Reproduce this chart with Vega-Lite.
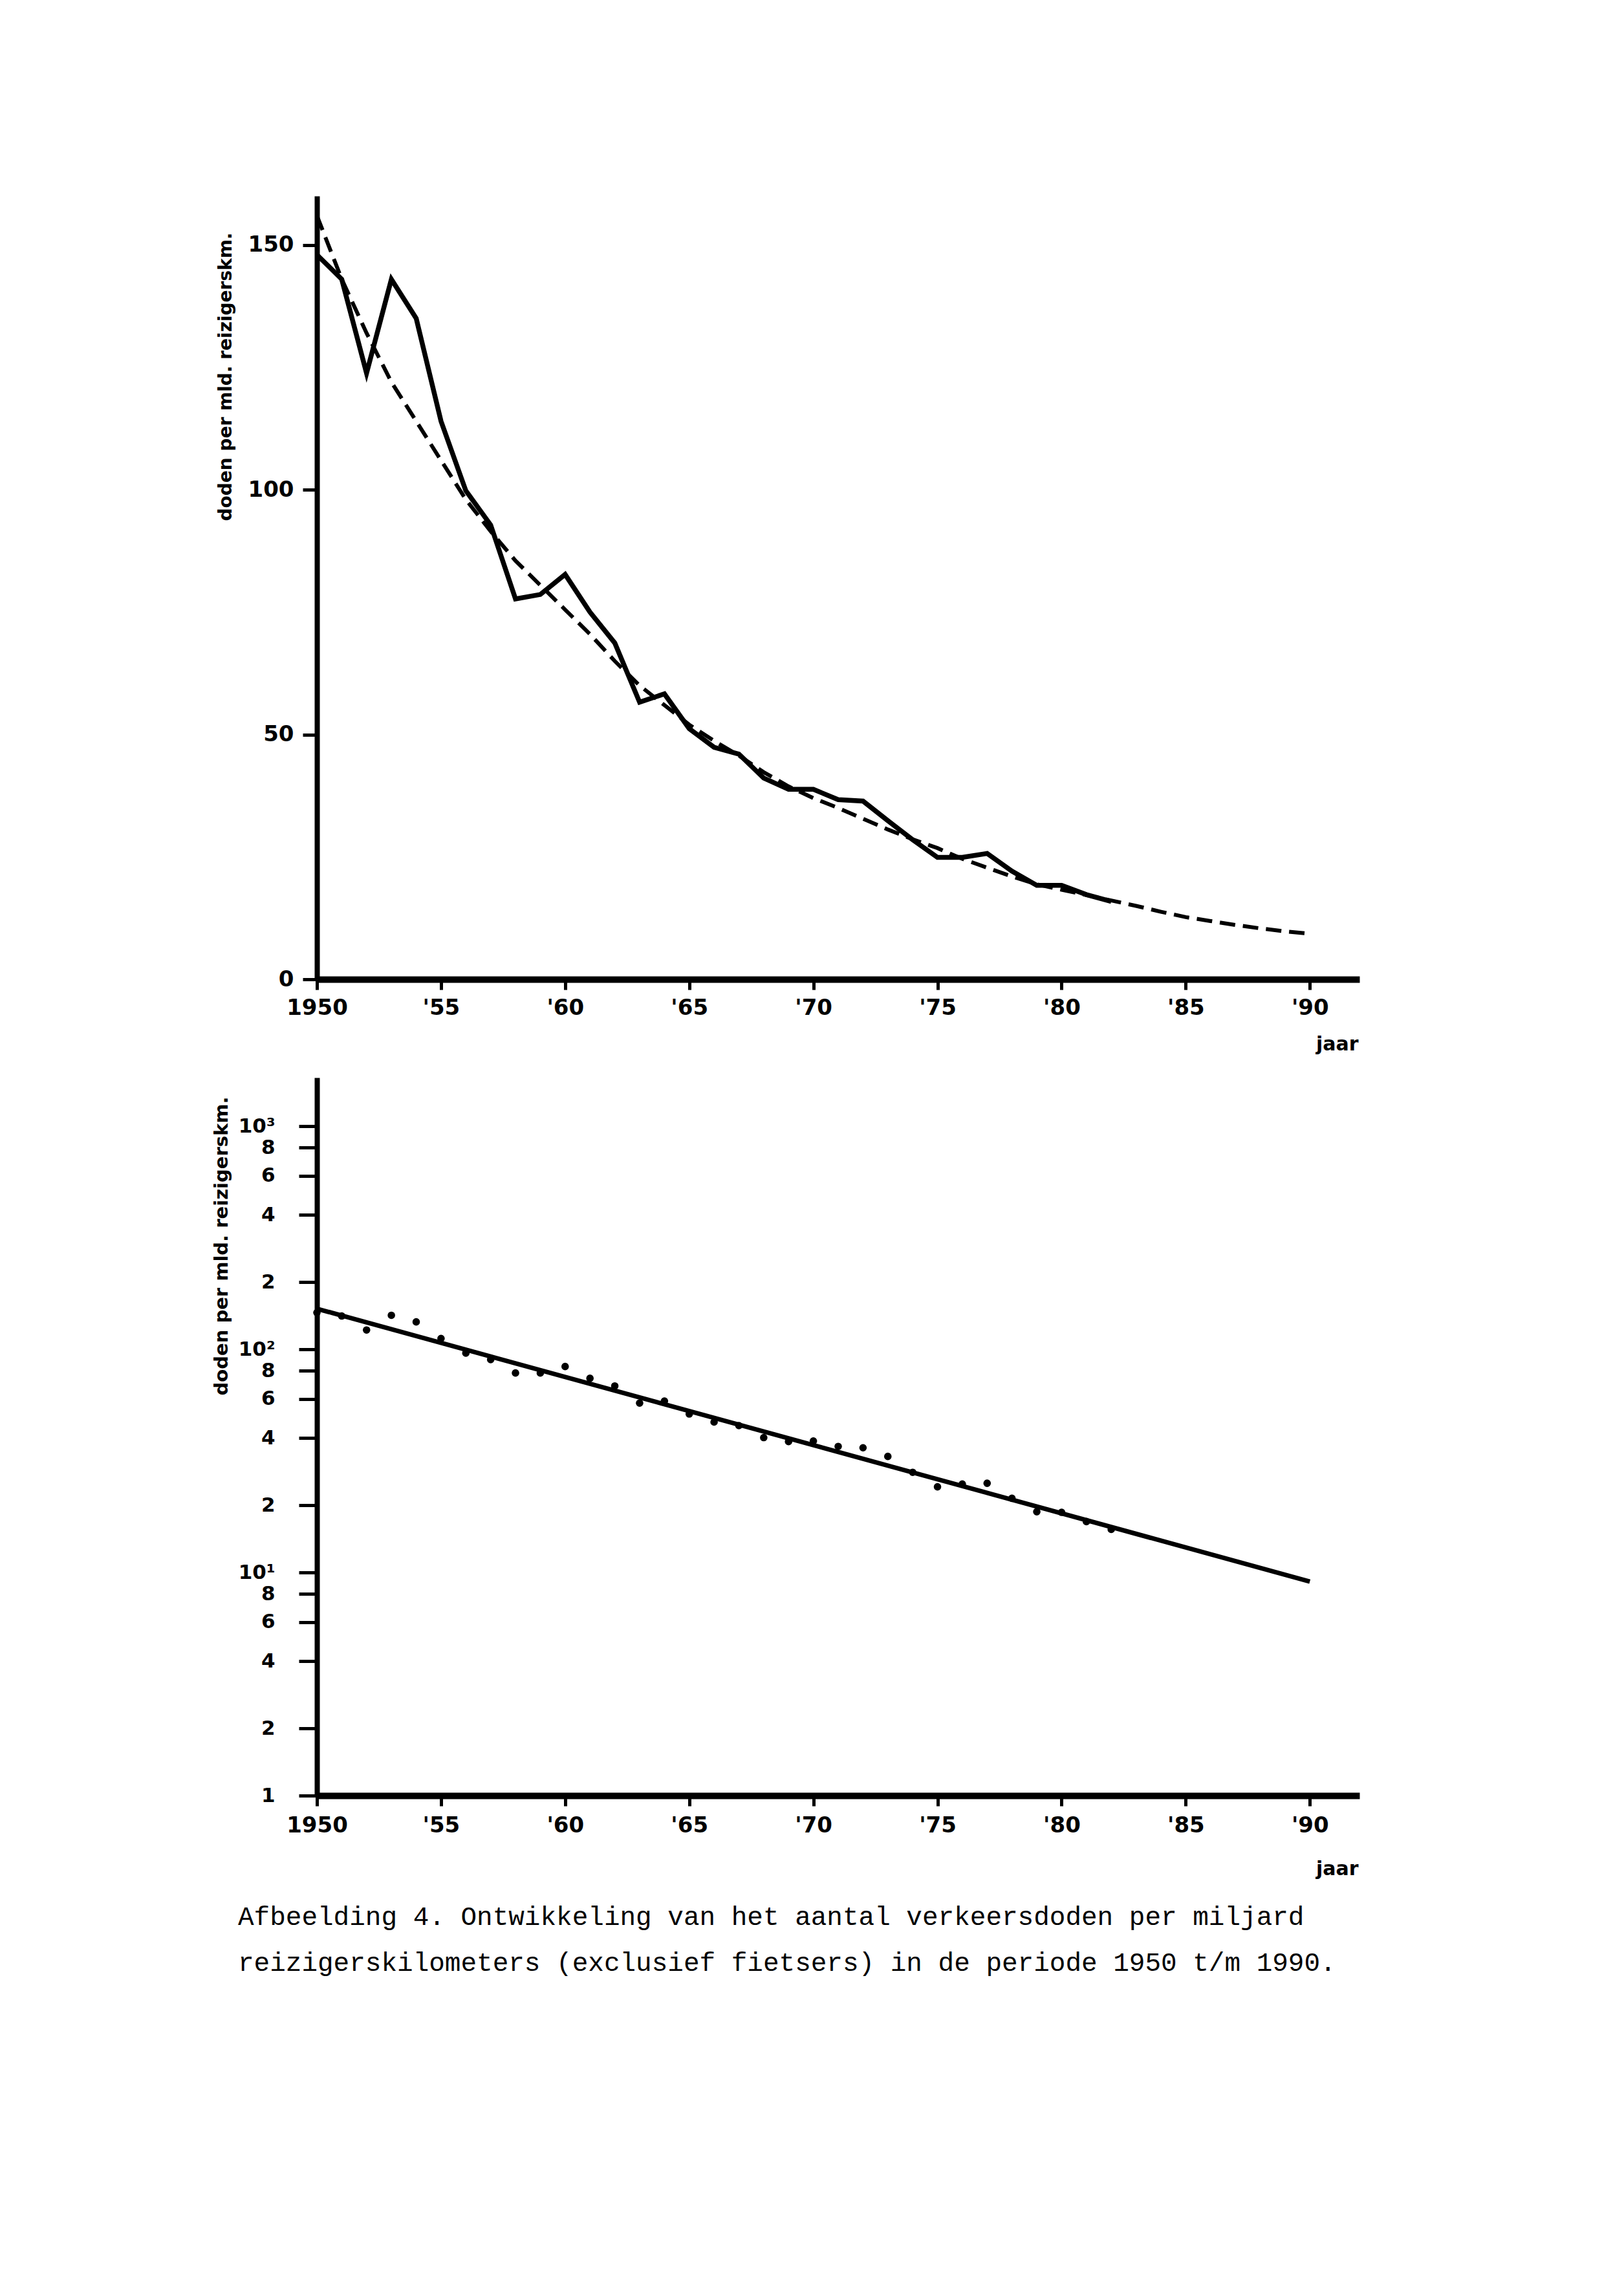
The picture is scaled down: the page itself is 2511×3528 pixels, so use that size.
{
  "$schema": "https://vega.github.io/schema/vega-lite/v6.json",
  "background": "white",
  "autosize": {"type": "pad"},
  "padding": {"left": 327, "top": 303, "right": 20, "bottom": 20},
  "bounds": "flush",
  "spacing": 152,
  "title": {
    "text": ["Afbeelding 4. Ontwikkeling van het aantal verkeersdoden per miljard", "reizigerskilometers (exclusief fietsers) in de periode 1950 t/m 1990."],
    "orient": "bottom",
    "anchor": "start",
    "frame": "bounds",
    "font": "Liberation Mono",
    "fontSize": 41,
    "fontWeight": "normal",
    "color": "black",
    "lineHeight": 71,
    "offset": 40,
    "dx": 40
  },
  "config": {
    "view": {"stroke": null},
    "axis": {
      "grid": false,
      "domainColor": "black",
      "tickColor": "black",
      "labelColor": "black",
      "titleColor": "black",
      "labelFont": "DejaVu Sans",
      "labelFontWeight": "bold",
      "titleFont": "DejaVu Sans",
      "titleFontWeight": "bold",
      "labelFlush": false,
      "labelOverlap": false
    }
  },
  "datasets": {
    "obs_lin": [
      {"year": 1950, "rate": 148}, {"year": 1951, "rate": 143}, {"year": 1952, "rate": 123.8},
      {"year": 1953, "rate": 143}, {"year": 1954, "rate": 135}, {"year": 1955, "rate": 114},
      {"year": 1956, "rate": 99.8}, {"year": 1957, "rate": 92.8}, {"year": 1958, "rate": 77.7},
      {"year": 1959, "rate": 78.6}, {"year": 1960, "rate": 82.7}, {"year": 1961, "rate": 75},
      {"year": 1962, "rate": 68.7}, {"year": 1963, "rate": 56.6}, {"year": 1964, "rate": 58.3},
      {"year": 1965, "rate": 51.2}, {"year": 1966, "rate": 47.4}, {"year": 1967, "rate": 46},
      {"year": 1968, "rate": 41.1}, {"year": 1969, "rate": 38.8}, {"year": 1970, "rate": 38.8},
      {"year": 1971, "rate": 36.7}, {"year": 1972, "rate": 36.4}, {"year": 1973, "rate": 32.4},
      {"year": 1974, "rate": 28.5}, {"year": 1975, "rate": 24.9}, {"year": 1976, "rate": 24.9},
      {"year": 1977, "rate": 25.7}, {"year": 1978, "rate": 22.1}, {"year": 1979, "rate": 19.2},
      {"year": 1980, "rate": 19.2}, {"year": 1981, "rate": 17.3}, {"year": 1982, "rate": 15.9}
    ],
    "trend": [
      {"year": 1950, "rate": 156}, {"year": 1951, "rate": 143}, {"year": 1952, "rate": 132},
      {"year": 1953, "rate": 122}, {"year": 1954, "rate": 114}, {"year": 1955, "rate": 106},
      {"year": 1956, "rate": 98}, {"year": 1957, "rate": 91.5}, {"year": 1958, "rate": 85.5},
      {"year": 1959, "rate": 80.5}, {"year": 1960, "rate": 75.5}, {"year": 1961, "rate": 70.5},
      {"year": 1962, "rate": 65}, {"year": 1963, "rate": 60}, {"year": 1964, "rate": 56},
      {"year": 1965, "rate": 52}, {"year": 1966, "rate": 48.7}, {"year": 1967, "rate": 45.7},
      {"year": 1968, "rate": 42.3}, {"year": 1969, "rate": 39.4}, {"year": 1970, "rate": 37},
      {"year": 1971, "rate": 35}, {"year": 1972, "rate": 32.8}, {"year": 1973, "rate": 30.6},
      {"year": 1974, "rate": 28.6}, {"year": 1975, "rate": 26.8}, {"year": 1976, "rate": 24.6},
      {"year": 1977, "rate": 22.8}, {"year": 1978, "rate": 21}, {"year": 1979, "rate": 19.4},
      {"year": 1980, "rate": 18.3}, {"year": 1981, "rate": 17.2}, {"year": 1982, "rate": 16.1},
      {"year": 1983, "rate": 15}, {"year": 1984, "rate": 13.8}, {"year": 1985, "rate": 12.7},
      {"year": 1986, "rate": 11.9}, {"year": 1987, "rate": 11.1}, {"year": 1988, "rate": 10.4},
      {"year": 1989, "rate": 9.8}, {"year": 1990, "rate": 9.3}
    ],
    "obs_log": [
      {"year": 1950, "rate": 146}, {"year": 1951, "rate": 141}, {"year": 1952, "rate": 122},
      {"year": 1953, "rate": 142}, {"year": 1954, "rate": 132.7}, {"year": 1955, "rate": 111.8},
      {"year": 1956, "rate": 96.1}, {"year": 1957, "rate": 89.9}, {"year": 1958, "rate": 78.3},
      {"year": 1959, "rate": 78.3}, {"year": 1960, "rate": 83.7}, {"year": 1961, "rate": 74.1},
      {"year": 1962, "rate": 68.5}, {"year": 1963, "rate": 57.4}, {"year": 1964, "rate": 58.6},
      {"year": 1965, "rate": 51.3}, {"year": 1966, "rate": 47.2}, {"year": 1967, "rate": 45.5},
      {"year": 1968, "rate": 40.2}, {"year": 1969, "rate": 38.6}, {"year": 1970, "rate": 38.8},
      {"year": 1971, "rate": 36.7}, {"year": 1972, "rate": 36.2}, {"year": 1973, "rate": 33.1},
      {"year": 1974, "rate": 28.1}, {"year": 1975, "rate": 24.2}, {"year": 1976, "rate": 24.9},
      {"year": 1977, "rate": 25.1}, {"year": 1978, "rate": 21.5}, {"year": 1979, "rate": 18.7},
      {"year": 1980, "rate": 18.6}, {"year": 1981, "rate": 16.9}, {"year": 1982, "rate": 15.6}
    ],
    "fit": [
      {"year": 1950, "rate": 152}, {"year": 1990, "rate": 9.1}
    ]
  },
  "vconcat": [
    {
      "width": 1612,
      "height": 1211,
      "encoding": {
        "x": {
          "field": "year", "type": "quantitative",
          "scale": {"domain": [1950, 1992], "nice": false, "zero": false},
          "axis": {
            "title": "jaar",
            "values": [1950, 1955, 1960, 1965, 1970, 1975, 1980, 1985, 1990],
            "labelExpr": "datum.value == 1950 ? '1950' : \"'\" + slice(toString(datum.value), 2)",
            "domainWidth": 10, "tickWidth": 5, "tickSize": 16,
            "labelFontSize": 34, "labelPadding": 11,
            "titleFontSize": 30, "titleX": 1610, "titleY": 100,
            "titleAlign": "right", "titleBaseline": "middle", "titleAngle": 0
          }
        },
        "y": {
          "field": "rate", "type": "quantitative",
          "scale": {"domain": [0, 160], "nice": false},
          "axis": {
            "title": "doden per mld. reizigerskm.",
            "values": [0, 50, 100, 150],
            "domainWidth": 8, "tickWidth": 5, "tickSize": 22,
            "labelFontSize": 34, "labelPadding": 14,
            "titleFontSize": 28, "titleX": -141, "titleY": 279,
            "titleAngle": -90, "titleAlign": "center", "titleBaseline": "middle"
          }
        }
      },
      "layer": [
        {
          "data": {"name": "trend"},
          "mark": {"type": "line", "stroke": "black", "strokeWidth": 6, "strokeDash": [24, 12]}
        },
        {
          "data": {"name": "obs_lin"},
          "mark": {"type": "line", "stroke": "black", "strokeWidth": 7.5}
        }
      ]
    },
    {
      "width": 1612,
      "height": 1110,
      "encoding": {
        "x": {
          "field": "year", "type": "quantitative",
          "scale": {"domain": [1950, 1992], "nice": false, "zero": false},
          "axis": {
            "title": "jaar",
            "values": [1950, 1955, 1960, 1965, 1970, 1975, 1980, 1985, 1990],
            "labelExpr": "datum.value == 1950 ? '1950' : \"'\" + slice(toString(datum.value), 2)",
            "domainWidth": 10, "tickWidth": 5, "tickSize": 16,
            "labelFontSize": 34, "labelPadding": 13,
            "titleFontSize": 30, "titleX": 1610, "titleY": 113,
            "titleAlign": "right", "titleBaseline": "middle", "titleAngle": 0
          }
        },
        "y": {
          "field": "rate", "type": "quantitative",
          "scale": {"type": "log", "domain": [1, 1650], "nice": false},
          "axis": {
            "title": "doden per mld. reizigerskm.",
            "values": [1, 2, 4, 6, 8, 10, 20, 40, 60, 80, 100, 200, 400, 600, 800, 1000],
            "labelExpr": "datum.value == 1000 ? '10³' : datum.value == 100 ? '10²' : datum.value == 10 ? '10¹' : slice(toString(datum.value), 0, 1)",
            "domainWidth": 8, "tickWidth": 5, "tickSize": 28,
            "labelFontSize": 31, "labelPadding": 37,
            "titleFontSize": 29, "titleX": -148, "titleY": 260,
            "titleAngle": -90, "titleAlign": "center", "titleBaseline": "middle"
          }
        }
      },
      "layer": [
        {
          "data": {"name": "fit"},
          "mark": {"type": "line", "stroke": "black", "strokeWidth": 7}
        },
        {
          "data": {"name": "obs_log"},
          "mark": {"type": "point", "filled": true, "color": "black", "opacity": 1, "size": 135}
        }
      ]
    }
  ]
}
